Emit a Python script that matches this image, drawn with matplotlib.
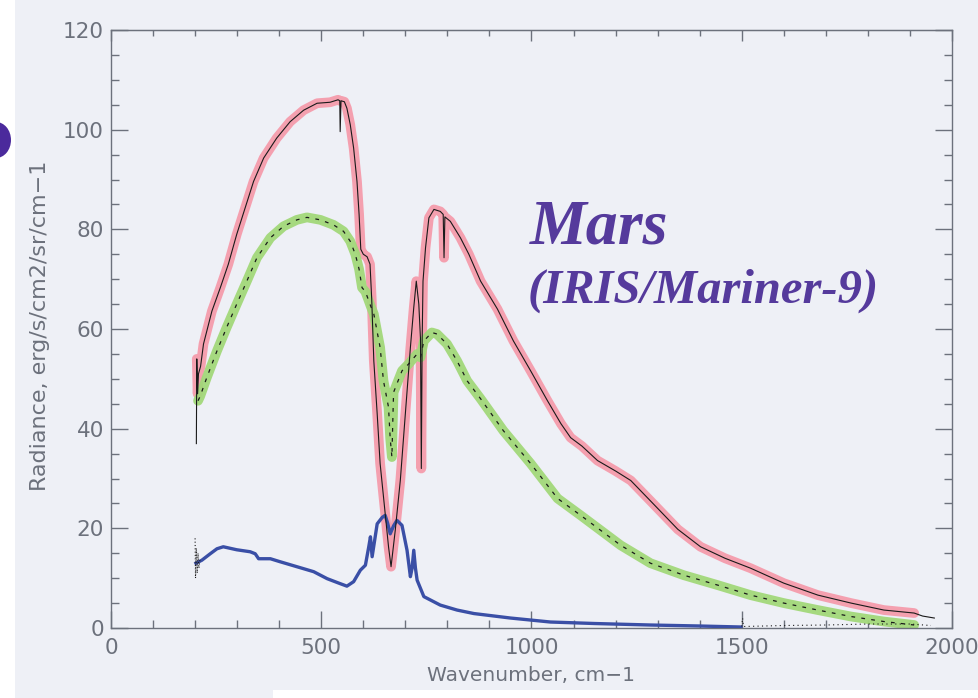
import matplotlib
matplotlib.use("Agg")
import matplotlib.pyplot as plt
import numpy as np
from matplotlib.patches import Ellipse, Rectangle
from matplotlib.ticker import MultipleLocator

# ---------------- data ----------------
red_wn = [203, 204, 206, 208, 213, 220, 240, 260, 279, 299, 319, 339, 363, 394, 426,
          458, 490, 521, 540, 544, 545, 547, 555, 561, 569, 577, 585, 590, 594, 600,
          609, 616, 620, 625, 633, 640, 652, 660, 666, 676, 688, 700, 712, 720, 726,
          732, 736, 738, 740, 742, 748, 756, 768, 783, 790, 792, 794, 807, 831, 851,
          879, 919, 957, 998, 1038, 1070, 1093, 1120, 1157, 1200, 1236, 1283, 1348,
          1402, 1460, 1521, 1600, 1681, 1760, 1838, 1910, 1930, 1958]
red_rad = [37, 54, 47, 51, 52.5, 57, 63.6, 68.3, 73, 79, 84.3, 89.6, 94.3, 98.3, 101.6,
           103.9, 105.3, 105.5, 106, 105.8, 99.6, 105.8, 105.6, 104.3, 101, 96.3, 89.6, 83, 76, 75,
           74.5, 73, 66, 53.6, 43, 33, 23, 16.3, 12.3, 19.6, 29.6, 43, 56.3, 64.3, 69.6,
           65, 58, 32, 58, 69.6, 76.3, 82.3, 84, 83.6, 83, 74.3, 82.5, 81.6, 78.3, 75,
           69.6, 64, 57.6, 51.6, 45.6, 41, 38.2, 36.5, 33.6, 31.5, 29.6, 25.5, 19.8,
           16.3, 14, 12, 9, 6.6, 5, 3.6, 3.0, 2.4, 2.0]
red_spikes_only_black = [203, 545, 1930, 1958]

green_wn = [207, 212, 228, 252, 275, 299, 323, 347, 379, 410, 442, 466, 498, 529, 553,
            569, 581, 590, 597, 605, 618, 625, 640, 648, 660, 664, 668, 670, 672, 692,
            708, 728, 736, 744, 763, 775, 799, 823, 847, 879, 933, 998, 1062, 1117, 1212,
            1283, 1362, 1443, 1521, 1600, 1681, 1760, 1838, 1910]
green_rad = [45.6, 46.5, 50.3, 55.6, 60.3, 65, 69.6, 74.3, 78.3, 80.6, 81.9, 82.4, 81.9, 80.9, 79.6,
             77.6, 75, 72, 68.3, 67.5, 64.5, 63, 56.3, 49.6, 44.3, 38, 34.3, 41, 47.3, 51.6,
             53, 55, 54.3, 57.6, 59.3, 59, 57, 53.6, 49.6, 46, 39.6, 33, 26, 22.6, 16.6,
             13, 10.6, 8.6, 6.6, 5, 3.6, 2.3, 1.3, 0.6]

blue_wn = [202, 216, 236, 252, 267, 299, 331, 343, 351, 379, 402, 442, 482, 514, 545,
           561, 577, 593, 605, 613, 617, 621, 633, 645, 652, 658, 664, 672, 680, 692,
           704, 712, 716, 720, 724, 728, 744, 783, 823, 863, 950, 1045, 1150, 1283, 1400, 1498]
blue_rad = [13, 13.6, 14.9, 15.9, 16.3, 15.7, 15.3, 14.9, 13.9, 13.9, 13.3, 12.3, 11.3, 9.9, 8.9,
            8.4, 9.3, 11.6, 12.6, 16.3, 18.3, 14.3, 20.9, 22.2, 22.6, 21, 18.9, 20.5, 21.6, 20.6,
            15.6, 10.3, 12, 15.6, 12, 9.6, 6.3, 4.6, 3.6, 2.9, 2.0, 1.2, 0.9, 0.6, 0.4, 0.2]

dots_start_wn = [200, 201, 203, 205, 207, 209, 212]
dots_start_rad = [18, 10, 16, 11, 15, 12, 14]
dots_tail_wn = [1500, 1502, 1504, 1600, 1700, 1800, 1900, 1950]
dots_tail_rad = [0.3, 2.0, 0.3, 0.5, 0.6, 0.8, 0.8, 0.5]

x_ticks = [0, 500, 1000, 1500, 2000]
y_ticks = [0, 20, 40, 60, 80, 100, 120]

# ---------------- figure ----------------
W, H = 979, 698
paper = "#eef0f6"
fig = plt.figure(figsize=(W / 100, H / 100), dpi=100, facecolor=paper)

# white scan margins and purple blob
fig.patches.append(Rectangle((0, 0), 15 / W, 1, transform=fig.transFigure,
                             facecolor="white", edgecolor="none", zorder=0))
fig.patches.append(Rectangle((273 / W, 0), 1, 8 / H, transform=fig.transFigure,
                             facecolor="white", edgecolor="none", zorder=0))
fig.patches.append(Ellipse((-4 / W, 1 - 140 / H), 30 / W, 36 / H, transform=fig.transFigure,
                           facecolor="#4b2a9c", edgecolor="none", zorder=1))

ax = fig.add_axes([111 / W, 1 - 628 / H, (952 - 111) / W, (628 - 30) / H])
ax.set_facecolor(paper)
ax.set_xlim(0, 2000)
ax.set_ylim(0, 120)

gray = "#6c717c"
for s in ax.spines.values():
    s.set_color(gray)
    s.set_linewidth(1.0)

ax.set_xticks(x_ticks)
ax.set_yticks(y_ticks)
ax.xaxis.set_minor_locator(MultipleLocator(100))
ax.yaxis.set_minor_locator(MultipleLocator(5))
ax.tick_params(axis="both", which="major", direction="in", length=12, width=1.0,
               color=gray, labelcolor=gray, labelsize=15.5)
ax.tick_params(axis="x", which="major", pad=7)
ax.tick_params(axis="y", which="major", pad=5)
ax.tick_params(axis="both", which="minor", direction="in", length=5.8, width=1.0, color=gray)
ax.tick_params(axis="y", which="both", right=True)

top = ax.secondary_xaxis("top")
top.set_xticks(x_ticks)
top.xaxis.set_minor_locator(MultipleLocator(100))
top.tick_params(axis="x", which="major", direction="in", length=8, width=1.0, color=gray,
                labeltop=False)
top.tick_params(axis="x", which="minor", direction="in", length=4.5, width=1.0, color=gray)
top.spines["top"].set_color(gray)

ax.set_xlabel("Wavenumber, cm\u22121", color=gray, fontsize=14.5, labelpad=6)
ax.set_ylabel("Radiance, erg/s/cm2/sr/cm\u22121", color=gray, fontsize=16, labelpad=8)
ax.yaxis.set_label_coords(-0.072, 0.505)

red_wn_a = np.array(red_wn)
red_rad_a = np.array(red_rad)
band = ~np.isin(red_wn_a, red_spikes_only_black)
ax.plot(red_wn_a[band], red_rad_a[band], color="#f597a8", lw=7, alpha=0.9,
        solid_capstyle="round", solid_joinstyle="round", zorder=2)
ax.plot(green_wn, green_rad, color="#a2d87a", lw=7, alpha=0.95,
        solid_capstyle="round", solid_joinstyle="round", zorder=2)
ax.plot(blue_wn, blue_rad, color="#3a4fa6", lw=2.4, zorder=3)

ax.plot(red_wn, red_rad, color="#1a1a1a", lw=0.8, zorder=4)
ax.plot(green_wn, green_rad, color="#1a1a1a", lw=0.9, ls=(0, (3, 5)), zorder=4)
ax.plot(dots_start_wn, dots_start_rad, color="#1a1a1a", lw=0.8, ls=(0, (1, 2)), zorder=4)
ax.plot(dots_tail_wn, dots_tail_rad, color="#1a1a1a", lw=0.8, ls=(0, (1, 3)), zorder=4)

purple = "#553a9c"
fig.text(530 / W, 1 - 243 / H, "Mars", color=purple, fontsize=46,
         family="Liberation Serif", weight="bold", style="italic", va="baseline", ha="left")
fig.text(528 / W, 1 - 303 / H, "(IRIS/Mariner-9)", color=purple, fontsize=35,
         family="Liberation Serif", weight="bold", style="italic", va="baseline", ha="left")

fig.savefig("out.png", dpi=100, facecolor=paper)
